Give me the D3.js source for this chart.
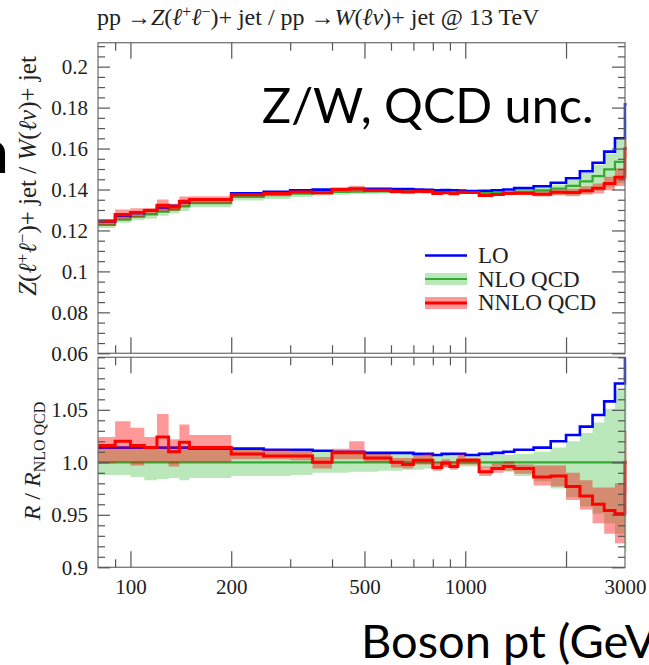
<!DOCTYPE html>
<html>
<head>
<meta charset="utf-8">
<script src="https://cdn.jsdelivr.net/npm/d3@7/dist/d3.min.js"></script>
<style>
  body { margin: 0; background: #fff; }
  svg { display: block; }
</style>
</head>
<body>
<div id="chart"></div>
<script>
// Boson pt bins in GeV (the last one is the overflow bin, clipped at 3000)
const binEdges = [80, 90, 100, 110, 120, 130, 140, 150, 200, 250, 300, 350, 400, 450, 500, 550, 600, 650, 700, 750,
  800, 850, 900, 950, 1000, 1100, 1200, 1300, 1400, 1600, 1800, 2000, 2200, 2400, 2600, 2800, 3000, 3500];

// NLO QCD central value of Z/W
const nloCentral = [0.1227, 0.1253, 0.1267, 0.1279, 0.1292, 0.1302, 0.1318, 0.1333, 0.1364, 0.1372, 0.1380, 0.1384,
  0.1388, 0.1390, 0.1391, 0.1391, 0.1390, 0.1390, 0.1389, 0.1388, 0.1387, 0.1386, 0.1385, 0.1384, 0.1383, 0.1383,
  0.1384, 0.1386, 0.1390, 0.1396, 0.1405, 0.1418, 0.1440, 0.1465, 0.1498, 0.1535, 0.1600];

// everything below is relative to NLO QCD
const nloLow = [0.988, 0.988, 0.986, 0.983, 0.984, 0.985, 0.983, 0.985, 0.987, 0.987, 0.988, 0.990, 0.990, 0.991,
  0.991, 0.992, 0.992, 0.993, 0.993, 0.994, 0.994, 0.995, 0.995, 0.996, 0.996, 0.995, 0.993, 0.991, 0.987, 0.982,
  0.975, 0.967, 0.958, 0.951, 0.942, 0.932, 0.915];
const nloHigh = [1.014, 1.014, 1.014, 1.014, 1.014, 1.014, 1.014, 1.013, 1.012, 1.012, 1.011, 1.011, 1.010, 1.010,
  1.009, 1.009, 1.008, 1.008, 1.008, 1.007, 1.007, 1.007, 1.006, 1.006, 1.006, 1.006, 1.007, 1.007, 1.008, 1.010,
  1.014, 1.020, 1.028, 1.038, 1.051, 1.069, 1.095];
const loRatio = [1.014, 1.014, 1.014, 1.014, 1.014, 1.014, 1.014, 1.013, 1.013, 1.012, 1.012, 1.011, 1.010, 1.010,
  1.009, 1.009, 1.009, 1.009, 1.008, 1.008, 1.007, 1.008, 1.008, 1.008, 1.007, 1.008, 1.009, 1.010, 1.012, 1.014,
  1.020, 1.026, 1.034, 1.045, 1.058, 1.075, 1.135];
const nnloRatio = [1.016, 1.020, 1.016, 1.014, 1.024, 1.010, 1.019, 1.014, 1.008, 1.006, 1.006, 1.000, 1.009, 1.009,
  1.004, 1.004, 1.000, 0.998, 1.002, 1.002, 0.995, 0.999, 0.996, 1.002, 1.002, 0.991, 0.994, 0.996, 0.994, 0.986,
  0.987, 0.977, 0.968, 0.960, 0.954, 0.951, 1.000];
const nnloLow = [0.999, 1.000, 0.997, 1.000, 1.000, 0.996, 1.000, 1.000, 1.003, 1.003, 1.002, 0.994, 1.003, 1.003,
  1.000, 1.000, 0.995, 0.994, 0.998, 0.998, 0.992, 0.995, 0.993, 0.998, 0.998, 0.987, 0.990, 0.992, 0.989, 0.978,
  0.977, 0.964, 0.955, 0.942, 0.932, 0.923, 0.970];
const nnloHigh = [1.024, 1.039, 1.033, 1.024, 1.046, 1.022, 1.036, 1.026, 1.012, 1.012, 1.011, 1.005, 1.013, 1.020,
  1.008, 1.008, 1.004, 1.004, 1.007, 1.008, 1.000, 1.003, 1.001, 1.008, 1.004, 0.996, 0.999, 1.001, 0.998, 0.997,
  0.997, 0.990, 0.983, 0.976, 0.976, 0.980, 1.030];

// axis ticks
const xMajor = [100, 200, 500, 1000, 2000];
const xMinor = [90, 300, 400, 600, 700, 800, 900];
const xLabels = [100, 200, 500, 1000, 3000];
const mainTicks = [0.06, 0.08, 0.1, 0.12, 0.14, 0.16, 0.18, 0.2];
const ratioTicks = [0.9, 0.95, 1.0, 1.05];
const ratioTickLabels = ["0.9", "0.95", "1.0", "1.05"];

const width = 649, height = 665;
const left = 98, right = 625;
const serif = "'Liberation Serif', 'DejaVu Serif', serif";
const sans = "Lato, 'Open Sans', sans-serif";

const colLO = "#0000ff", colNLO = "#33aa33", colNNLO = "#ff0000";
const fillNLO = "rgba(0,170,0,0.27)", fillNNLO = "rgba(255,0,0,0.4)";

const svg = d3.select("#chart").append("svg")
  .attr("width", width)
  .attr("height", height);

const x = d3.scaleLog().domain([80, 3000]).range([left, right]);
const yMain = d3.scaleLinear().domain([0.06, 0.2117]).range([353.3, 42.7]);
const yRatio = d3.scaleLinear().domain([0.9, 1.1]).range([567.3, 357.3]);

// turn per-bin values into step points
function steps(vals) {
  const pts = [];
  vals.forEach((v, i) => {
    pts.push({ x: binEdges[i], v: v });
    pts.push({ x: binEdges[i + 1], v: v });
  });
  return pts;
}
function bandSteps(lo, hi) {
  const pts = [];
  lo.forEach((v, i) => {
    pts.push({ x: binEdges[i], lo: v, hi: hi[i] });
    pts.push({ x: binEdges[i + 1], lo: v, hi: hi[i] });
  });
  return pts;
}

function drawPanel(name, y, s) {
  const [y0, y1] = y.range();
  svg.append("clipPath").attr("id", "clip-" + name)
    .append("rect").attr("x", left).attr("y", y1).attr("width", right - left + 1.5).attr("height", y0 - y1);

  const g = svg.append("g").attr("clip-path", `url(#clip-${name})`);
  const line = d3.line().x(d => x(d.x)).y(d => y(d.v));
  const area = d3.area().x(d => x(d.x)).y0(d => y(d.lo)).y1(d => y(d.hi));

  g.append("path").attr("d", area(bandSteps(s.nloLow, s.nloHigh))).attr("fill", fillNLO);
  g.append("path").attr("d", line(steps(s.nlo))).attr("fill", "none").attr("stroke", colNLO).attr("stroke-width", 2.2);
  g.append("path").attr("d", line(steps(s.lo))).attr("fill", "none").attr("stroke", colLO).attr("stroke-width", 2.6);
  g.append("path").attr("d", area(bandSteps(s.nnloLow, s.nnloHigh))).attr("fill", fillNNLO);
  g.append("path").attr("d", line(steps(s.nnlo))).attr("fill", "none").attr("stroke", colNNLO).attr("stroke-width", 3);

  // frame
  svg.append("rect").attr("x", left).attr("y", y1).attr("width", right - left).attr("height", y0 - y1)
    .attr("fill", "none").attr("stroke", "#777").attr("stroke-width", 1.3);
}

// upper panel: absolute Z/W
const mul = (a, b) => a.map((v, i) => v * b[i]);
drawPanel("main", yMain, {
  nlo: nloCentral,
  nloLow: mul(nloCentral, nloLow), nloHigh: mul(nloCentral, nloHigh),
  lo: mul(nloCentral, loRatio),
  nnlo: mul(nloCentral, nnloRatio),
  nnloLow: mul(nloCentral, nnloLow), nnloHigh: mul(nloCentral, nnloHigh)
});

// lower panel: ratio to NLO QCD
drawPanel("ratio", yRatio, {
  nlo: nloCentral.map(() => 1),
  nloLow: nloLow, nloHigh: nloHigh,
  lo: loRatio,
  nnlo: nnloRatio,
  nnloLow: nnloLow, nnloHigh: nnloHigh
});

// ticks
function styleAxis(sel) {
  sel.select(".domain").remove();
  sel.selectAll(".tick line").attr("stroke", "#555").attr("stroke-width", 1.2);
  sel.selectAll(".tick text").attr("font-family", serif).attr("font-size", 21).attr("fill", "#222");
}

function yAxes(y, major, minor, fmt) {
  svg.append("g").attr("transform", `translate(${left},0)`)
    .call(d3.axisLeft(y).tickValues(major).tickSize(-12).tickPadding(10).tickFormat(fmt)).call(styleAxis);
  svg.append("g").attr("transform", `translate(${left},0)`)
    .call(d3.axisLeft(y).tickValues(minor).tickSize(-7).tickFormat("")).call(styleAxis);
  svg.append("g").attr("transform", `translate(${right},0)`)
    .call(d3.axisRight(y).tickValues(major).tickSize(-13).tickFormat("")).call(styleAxis);
  svg.append("g").attr("transform", `translate(${right},0)`)
    .call(d3.axisRight(y).tickValues(minor).tickSize(-7).tickFormat("")).call(styleAxis);
}

function xAxes(y) {
  const [y0, y1] = y.range();
  svg.append("g").attr("transform", `translate(0,${y1})`)
    .call(d3.axisTop(x).tickValues(xMajor).tickSize(-16).tickFormat("")).call(styleAxis);
  svg.append("g").attr("transform", `translate(0,${y1})`)
    .call(d3.axisTop(x).tickValues(xMinor).tickSize(-8).tickFormat("")).call(styleAxis);
  svg.append("g").attr("transform", `translate(0,${y0})`)
    .call(d3.axisBottom(x).tickValues(xMajor).tickSize(-16).tickFormat("")).call(styleAxis);
  svg.append("g").attr("transform", `translate(0,${y0})`)
    .call(d3.axisBottom(x).tickValues(xMinor).tickSize(-8).tickFormat("")).call(styleAxis);
}

const mainMinor = d3.range(0.06, 0.2116, 0.005).filter(v => !mainTicks.some(t => Math.abs(t - v) < 1e-6));
const ratioMinor = d3.range(0.9, 1.1001, 0.01).filter(v => !ratioTicks.some(t => Math.abs(t - v) < 1e-6));

yAxes(yMain, mainTicks, mainMinor, d3.format("~g"));
yAxes(yRatio, ratioTicks, ratioMinor, (d, i) => ratioTickLabels[i]);
xAxes(yMain);
xAxes(yRatio);

// x labels under the ratio panel
svg.append("g").attr("transform", `translate(0,${yRatio.range()[0]})`)
  .call(d3.axisBottom(x).tickValues(xLabels).tickSize(0).tickPadding(12).tickFormat(d3.format("d")))
  .call(styleAxis);

// title
svg.append("text")
  .attr("x", 97).attr("y", 25)
  .attr("font-family", serif).attr("font-size", 24).attr("fill", "#222")
  .html(`pp →<tspan font-style="italic">Z</tspan>(<tspan font-style="italic">ℓ</tspan><tspan dy="-8" font-size="16">+</tspan><tspan dy="8" font-style="italic">ℓ</tspan><tspan dy="-8" font-size="16">−</tspan><tspan dy="8">)+ jet / pp →</tspan><tspan font-style="italic">W</tspan>(<tspan font-style="italic">ℓν</tspan>)+ jet @ 13 TeV`);

// y axis titles
svg.append("text")
  .attr("transform", "translate(36,176) rotate(-90)")
  .attr("text-anchor", "middle")
  .attr("font-family", serif).attr("font-size", 25).attr("fill", "#222")
  .html(`<tspan font-style="italic">Z</tspan>(<tspan font-style="italic">ℓ</tspan><tspan dy="-8" font-size="17">+</tspan><tspan dy="8" font-style="italic">ℓ</tspan><tspan dy="-8" font-size="17">−</tspan><tspan dy="8">)+ jet / </tspan><tspan font-style="italic">W</tspan>(<tspan font-style="italic">ℓν</tspan>)+ jet`);

svg.append("text")
  .attr("transform", "translate(40,461) rotate(-90)")
  .attr("text-anchor", "middle")
  .attr("font-family", serif).attr("font-size", 24).attr("fill", "#222")
  .html(`<tspan font-style="italic">R</tspan> / <tspan font-style="italic">R</tspan><tspan dy="5" font-size="16">NLO QCD</tspan>`);

// legend
const legend = svg.append("g").attr("font-family", serif).attr("font-size", 23).attr("fill", "#222");
legend.append("line").attr("x1", 425).attr("x2", 467).attr("y1", 255.5).attr("y2", 255.5)
  .attr("stroke", colLO).attr("stroke-width", 2.6);
legend.append("rect").attr("x", 425).attr("y", 273).attr("width", 42).attr("height", 12).attr("fill", fillNLO);
legend.append("line").attr("x1", 425).attr("x2", 467).attr("y1", 279).attr("y2", 279)
  .attr("stroke", colNLO).attr("stroke-width", 2.2);
legend.append("rect").attr("x", 425).attr("y", 297).attr("width", 42).attr("height", 12).attr("fill", fillNNLO);
legend.append("line").attr("x1", 425).attr("x2", 467).attr("y1", 303).attr("y2", 303)
  .attr("stroke", colNNLO).attr("stroke-width", 3);
legend.append("text").attr("x", 478).attr("y", 263).text("LO");
legend.append("text").attr("x", 478).attr("y", 287).text("NLO QCD");
legend.append("text").attr("x", 478).attr("y", 310).text("NNLO QCD");

// overlaid slide labels
svg.append("text").attr("x", 262).attr("y", 123)
  .attr("font-family", sans).attr("font-size", 48.5).attr("fill", "#000")
  .text("Z/W, QCD unc.");
svg.append("text").attr("x", 361).attr("y", 658)
  .attr("font-family", sans).attr("font-size", 47).attr("fill", "#000")
  .text("Boson pt (GeV)");
svg.append("text").attr("x", 9).attr("y", 173).attr("text-anchor", "end")
  .attr("font-family", sans).attr("font-size", 60).attr("fill", "#000")
  .text("n");
</script>
</body>
</html>
